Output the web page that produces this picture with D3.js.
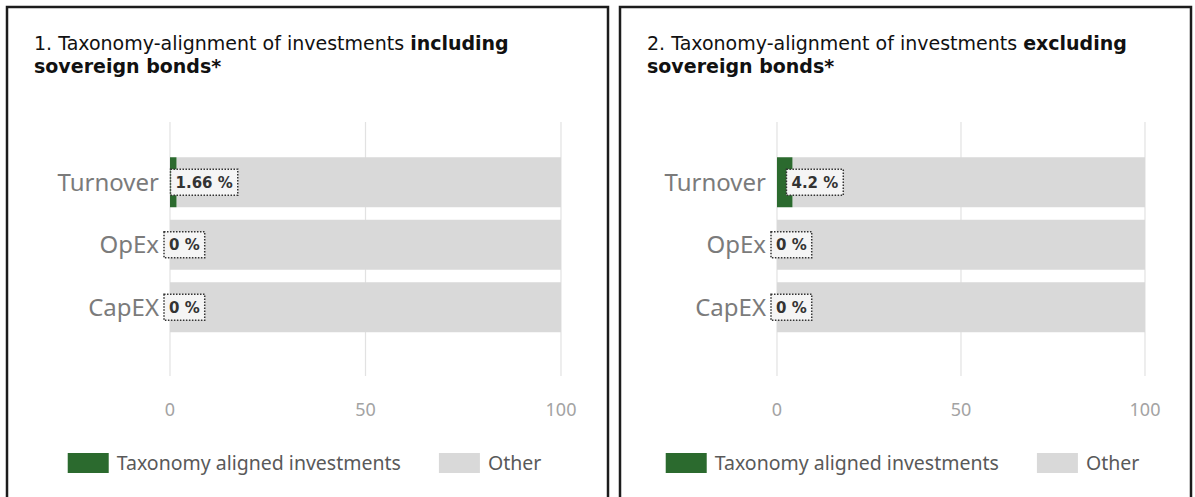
<!DOCTYPE html>
<html>
<head>
<meta charset="utf-8">
<script src="https://cdn.jsdelivr.net/npm/d3@7/dist/d3.min.js"></script>
<style>
  html, body { margin: 0; padding: 0; background: #fff; }
  svg { display: block; }
</style>
</head>
<body>
<svg id="chart"></svg>
<script>
// data
var categories = ["Turnover", "OpEx", "CapEX"];
var alignedIncl = [1.66, 0, 0];
var alignedExcl = [4.2, 0, 0];
var xTicks = [0, 50, 100];
var legendLabels = ["Taxonomy aligned investments", "Other"];
var titleIncl = ["1. Taxonomy-alignment of investments ", "including", "sovereign bonds*"];
var titleExcl = ["2. Taxonomy-alignment of investments ", "excluding", "sovereign bonds*"];

var width = 1195, height = 497;
var green = "#2b6a2e", grey = "#d9d9d9";

var svg = d3.select("#chart").attr("width", width).attr("height", height);

var panels = [
  { left: 7, right: 608, x0: 170, x1: 561, title: titleIncl, values: alignedIncl },
  { left: 620, right: 1191, x0: 777, x1: 1145, title: titleExcl, values: alignedExcl }
];

panels.forEach(function (p) {
  var g = svg.append("g");

  // frame (runs off the bottom of the picture)
  g.append("rect")
    .attr("x", p.left).attr("y", 7)
    .attr("width", p.right - p.left).attr("height", 600)
    .attr("fill", "none").attr("stroke", "#1c1c1c").attr("stroke-width", 2.5);

  // title
  var t = g.append("text")
    .attr("font-family", "DejaVu Sans, Verdana, sans-serif")
    .attr("font-size", 19).attr("fill", "#111");
  t.append("tspan").attr("x", p.left + 27).attr("y", 50).text(p.title[0]);
  t.append("tspan").attr("font-weight", "bold").text(p.title[1]);
  t.append("tspan").attr("x", p.left + 27).attr("y", 73).attr("font-weight", "bold").text(p.title[2]);

  var x = d3.scaleLinear().domain([0, 100]).range([p.x0, p.x1]);
  var y = d3.scaleBand().domain(categories).range([151, 338.5]).paddingInner(0.2).paddingOuter(0.1);

  // grid
  g.selectAll(".grid").data(xTicks).enter().append("line")
    .attr("x1", function (d) { return x(d); }).attr("x2", function (d) { return x(d); })
    .attr("y1", 122).attr("y2", 376)
    .attr("stroke", "#e2e2e2").attr("stroke-width", 1.2);

  // tick labels
  g.selectAll(".tick").data(xTicks).enter().append("text")
    .attr("x", function (d) { return x(d); }).attr("y", 416)
    .attr("text-anchor", "middle")
    .attr("font-family", "Noto Sans, Open Sans, sans-serif").attr("font-size", 18)
    .attr("fill", "#a3a3a3")
    .text(function (d) { return d; });

  var rows = categories.map(function (c, i) { return { cat: c, v: p.values[i] }; });

  // other
  g.selectAll(".other").data(rows).enter().append("rect")
    .attr("x", function (d) { return x(d.v); })
    .attr("y", function (d) { return y(d.cat); })
    .attr("width", function (d) { return x(100) - x(d.v); })
    .attr("height", y.bandwidth())
    .attr("fill", grey);

  // aligned
  g.selectAll(".aligned").data(rows).enter().append("rect")
    .attr("x", x(0))
    .attr("y", function (d) { return y(d.cat); })
    .attr("width", function (d) { return x(d.v) - x(0); })
    .attr("height", y.bandwidth())
    .attr("fill", green);

  // category labels
  g.selectAll(".cat").data(rows).enter().append("text")
    .attr("x", x(0) - 11)
    .attr("y", function (d) { return y(d.cat) + y.bandwidth() / 2; })
    .attr("dy", "0.35em")
    .attr("text-anchor", "end")
    .attr("font-family", "Noto Sans, Open Sans, sans-serif").attr("font-size", 24)
    .attr("fill", "#7b7b7b")
    .text(function (d) { return d.cat; });

  // data labels in dotted boxes
  var lab = g.selectAll(".lab").data(rows).enter().append("g")
    .attr("transform", function (d) {
      return "translate(" + (x(d.v) - 6) + "," + (y(d.cat) + y.bandwidth() / 2) + ")";
    });
  lab.append("text")
    .attr("x", 5).attr("dy", "0.36em")
    .attr("font-family", "DejaVu Sans, sans-serif").attr("font-weight", "bold")
    .attr("font-size", 15).attr("fill", "#333")
    .text(function (d) { return d.v + " %"; });
  lab.insert("rect", "text")
    .attr("x", 0).attr("y", -13)
    .attr("width", function () { return this.parentNode.querySelector("text").getComputedTextLength() + 10; })
    .attr("height", 26)
    .attr("fill", "#f5f5f5")
    .attr("stroke", "#333").attr("stroke-width", 1.5).attr("stroke-dasharray", "1.5,1.5");

  // legend, centred on the panel
  var leg = g.append("g");
  var colors = [green, grey];
  var cx = 0;
  legendLabels.forEach(function (name, i) {
    leg.append("rect").attr("x", cx).attr("y", 453).attr("width", 41).attr("height", 20).attr("fill", colors[i]);
    var tx = leg.append("text").attr("x", cx + 49).attr("y", 463).attr("dy", "0.35em")
      .attr("font-family", "Noto Sans, Open Sans, sans-serif").attr("font-size", 19.5)
      .attr("fill", "#595959").text(name);
    cx += 49 + tx.node().getComputedTextLength() + 38;
  });
  var legW = cx - 38;
  leg.attr("transform", "translate(" + ((p.left + p.right) / 2 - 3 - legW / 2) + ",0)");
});
</script>
</body>
</html>
